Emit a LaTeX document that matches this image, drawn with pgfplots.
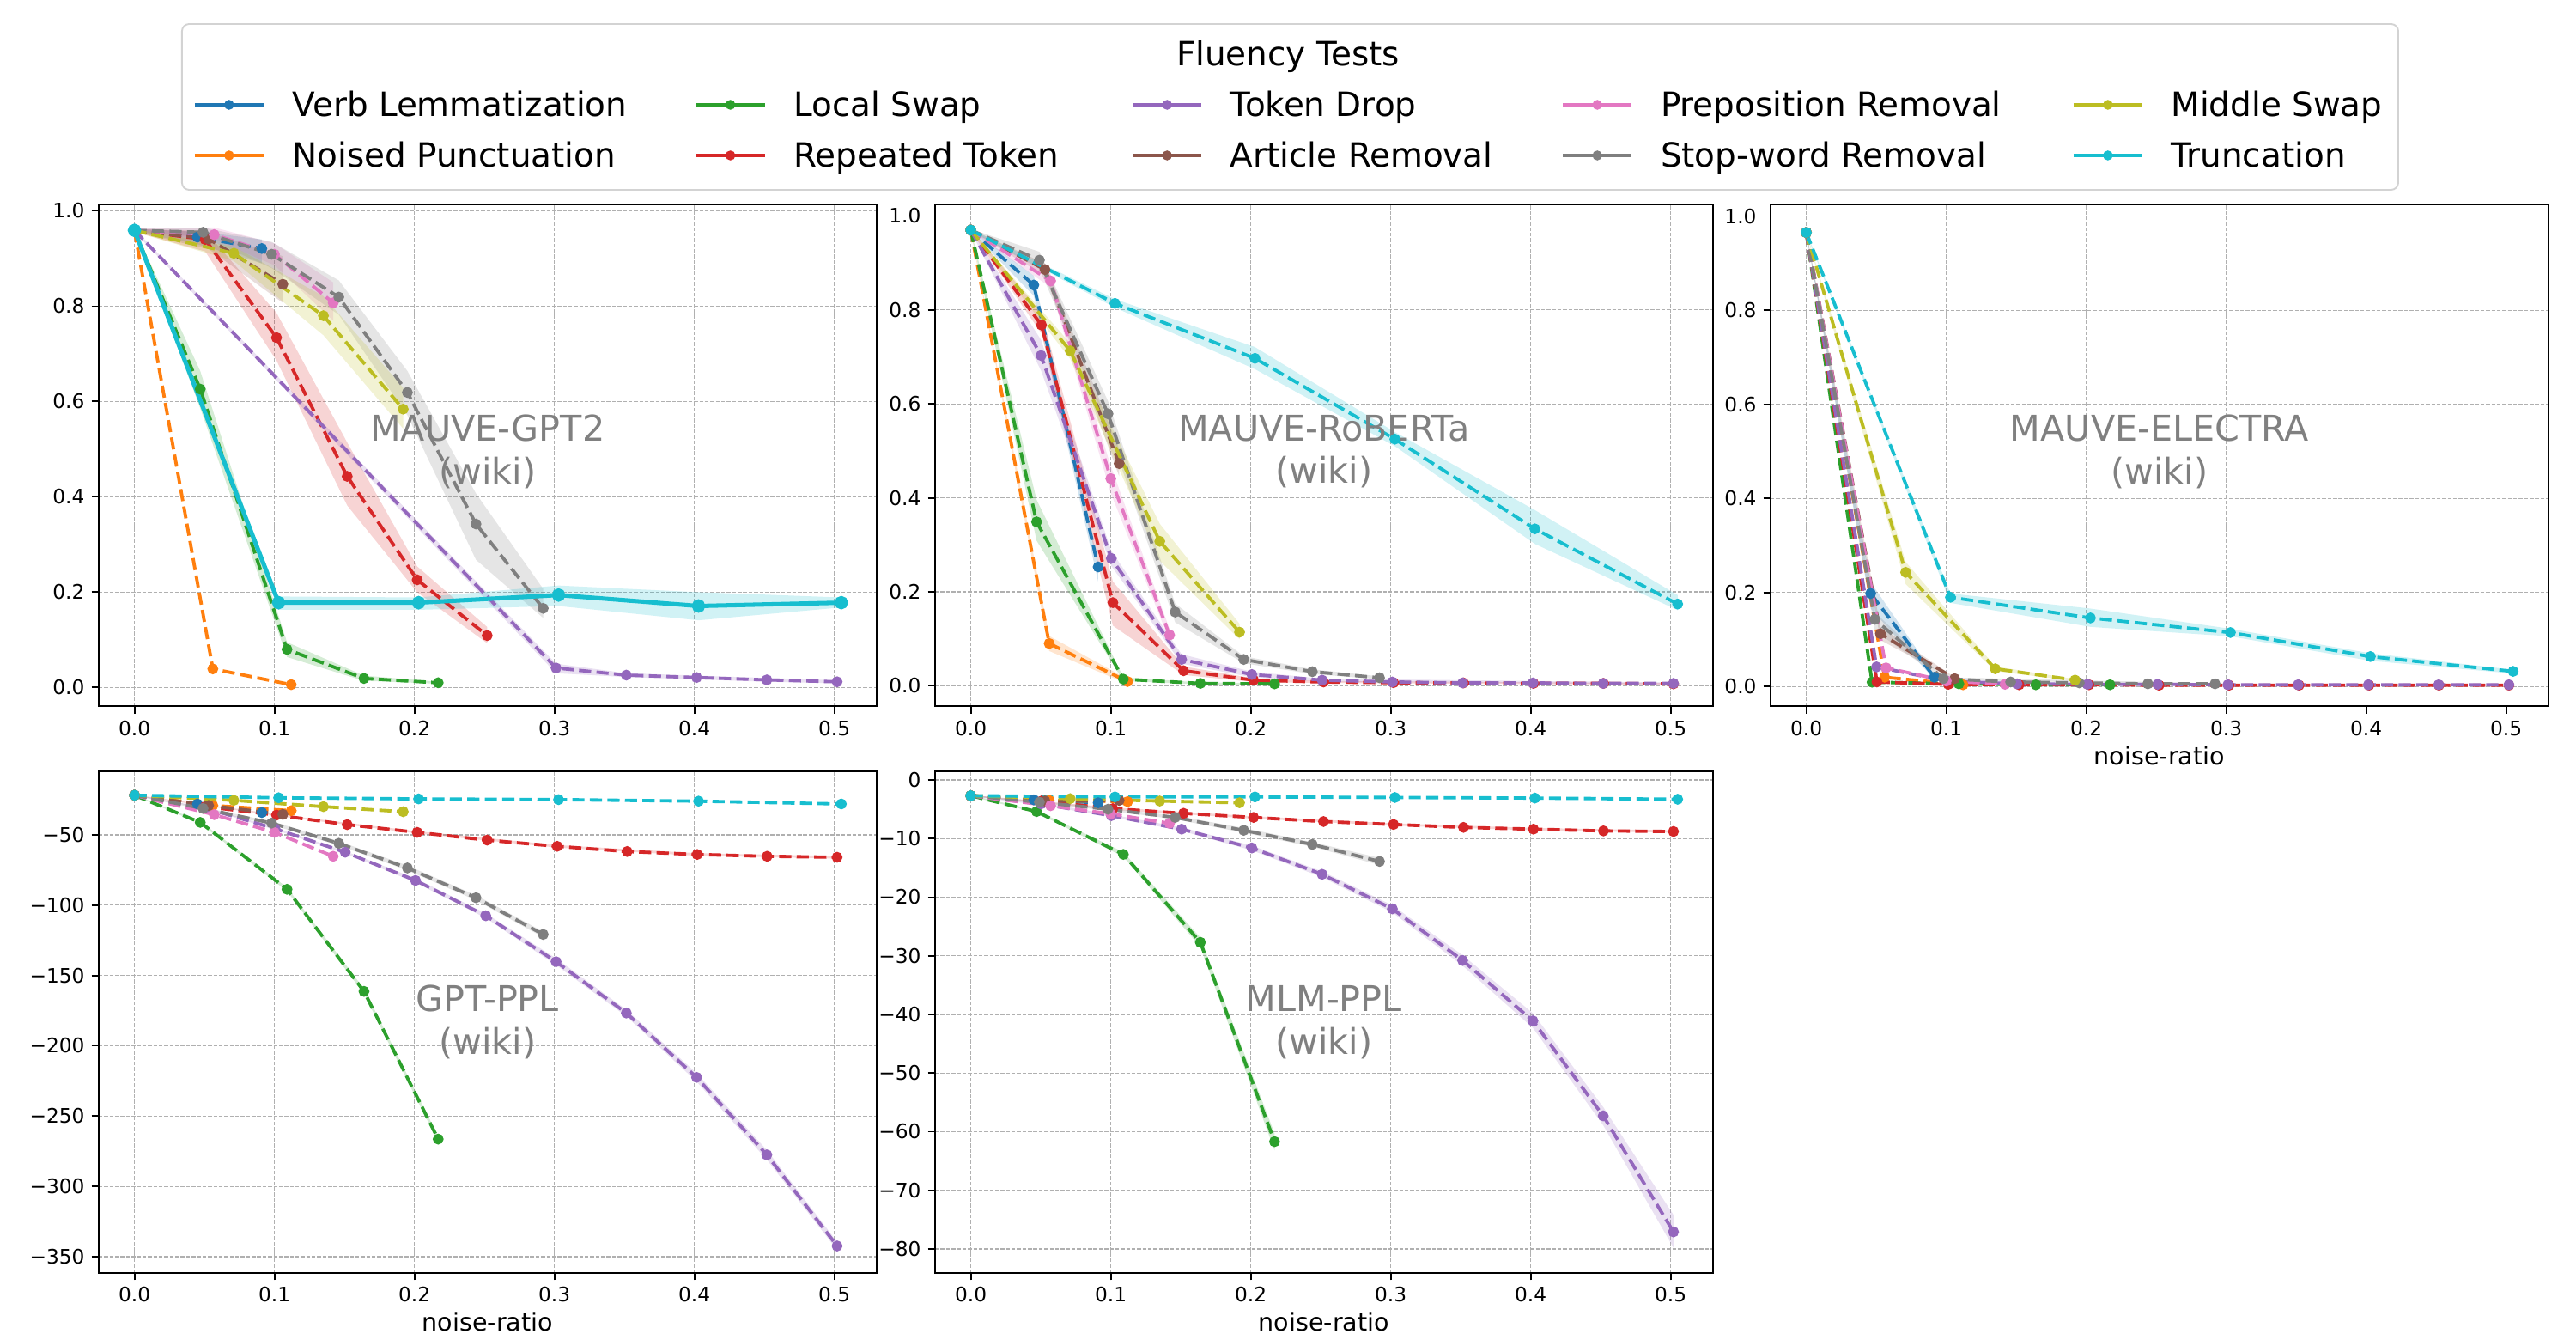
\documentclass[border=0pt]{standalone}
\usepackage{fontspec}
\setmainfont{DejaVu Sans}
\usepackage{pgfplots}
\pgfplotsset{compat=1.18}
\definecolor{c0}{HTML}{1F77B4}
\definecolor{c1}{HTML}{FF7F0E}
\definecolor{c2}{HTML}{2CA02C}
\definecolor{c3}{HTML}{D62728}
\definecolor{c4}{HTML}{9467BD}
\definecolor{c5}{HTML}{8C564B}
\definecolor{c6}{HTML}{E377C2}
\definecolor{c7}{HTML}{7F7F7F}
\definecolor{c8}{HTML}{BCBD22}
\definecolor{c9}{HTML}{17BECF}
\definecolor{gridc}{HTML}{B0B0B0}
\definecolor{annc}{HTML}{808080}
\definecolor{legc}{HTML}{D3D3D3}
\tikzset{
  ann/.style={text=annc, font=\fontsize{17.2}{20.6}\selectfont, align=center, anchor=center},
  lg/.style={color=#1, line width=1.5pt, solid, mark=*, mark size=1.6pt, mark options={fill=#1}},
}
\pgfplotsset{
  panel/.style={
    scale only axis, width=377.3pt, height=243.3pt, anchor=north west,
    xmin=-0.0255, xmax=0.530,
    xtick={0,0.1,0.2,0.3,0.4,0.5}, xticklabels={0.0,0.1,0.2,0.3,0.4,0.5},
    tick align=outside, tick pos=left, major tick length=3.5pt,
    tick style={black, line width=0.8pt},
    axis line style={black, line width=0.8pt},
    grid=major,
    major grid style={color=gridc, line width=0.5pt, dash pattern=on 1.85pt off 0.8pt},
    tick label style={font=\fontsize{9.7}{11.6}\selectfont},
    xticklabel style={anchor=north, inner sep=0pt, yshift=-3.2pt},
    yticklabel style={anchor=east, inner sep=0pt, xshift=-3.2pt},
    xlabel style={font=\fontsize{11.9}{14.3}\selectfont, at={(axis description cs:0.5,0)}, anchor=base, yshift=-28.2pt},
  },
  ln/.style={color=#1, line width=1.6pt, dash pattern=on 5.9pt off 2.6pt, mark=*, mark size=1.8pt, mark options={solid, fill=#1}},
  bd/.style={fill=#1, fill opacity=0.2, draw=none, mark=none, forget plot},
}
\begin{document}
\begin{tikzpicture}
\path[use as bounding box] (0pt,0pt) rectangle (1250pt,-650pt);

% ---------------- Panel 1: MAUVE-GPT2 ----------------
\begin{axis}[panel, at={(47.92pt,-99.375pt)}, ymin=-0.0397, ymax=1.0126,
  ytick={0,0.2,0.4,0.6,0.8,1}, yticklabels={0.0,0.2,0.4,0.6,0.8,1.0}]
\addplot[bd=c0] coordinates {(0,0.962)(0.045,0.957)(0.091,0.94)(0.091,0.89)(0.045,0.93)(0,0.956)};
\addplot[bd=c2] coordinates {(0,0.962)(0.047,0.664)(0.109,0.095)(0.164,0.025)(0.217,0.012)(0.217,0.008)(0.164,0.014)(0.109,0.064)(0.047,0.586)(0,0.956)};
\addplot[bd=c3] coordinates {(0,0.962)(0.0505,0.958)(0.1015,0.786)(0.152,0.514)(0.202,0.254)(0.252,0.127)(0.252,0.093)(0.202,0.200)(0.152,0.382)(0.1015,0.686)(0.0505,0.915)(0,0.956)};
\addplot[bd=c4] coordinates {(0,0.962)(0.3012,0.05)(0.3514,0.03)(0.4016,0.025)(0.4518,0.02)(0.502,0.015)(0.502,0.009)(0.4518,0.012)(0.4016,0.017)(0.3514,0.022)(0.3012,0.03)(0,0.956)};
\addplot[bd=c5] coordinates {(0,0.962)(0.053,0.955)(0.106,0.905)(0.106,0.807)(0.053,0.92)(0,0.956)};
\addplot[bd=c6] coordinates {(0,0.963)(0.057,0.965)(0.100,0.932)(0.142,0.85)(0.142,0.77)(0.100,0.886)(0.057,0.94)(0,0.956)};
\addplot[bd=c7] coordinates {(0,0.962)(0.049,0.965)(0.098,0.935)(0.146,0.854)(0.195,0.664)(0.244,0.407)(0.292,0.207)(0.292,0.146)(0.244,0.268)(0.195,0.571)(0.146,0.782)(0.098,0.88)(0.049,0.945)(0,0.956)};
\addplot[bd=c8] coordinates {(0,0.962)(0.071,0.925)(0.135,0.821)(0.192,0.629)(0.192,0.543)(0.135,0.739)(0.071,0.895)(0,0.956)};
\addplot[bd=c9] coordinates {(0,0.962)(0.103,0.191)(0.203,0.189)(0.303,0.214)(0.403,0.200)(0.505,0.189)(0.505,0.168)(0.403,0.141)(0.303,0.171)(0.203,0.163)(0.103,0.163)(0,0.956)};
\addplot[ln=c0] coordinates {(0,0.959)(0.045,0.945)(0.091,0.921)};
\addplot[ln=c1] coordinates {(0,0.959)(0.056,0.039)(0.112,0.006)};
\addplot[ln=c2] coordinates {(0,0.959)(0.047,0.626)(0.109,0.080)(0.164,0.019)(0.217,0.010)};
\addplot[ln=c3] coordinates {(0,0.959)(0.0505,0.940)(0.1015,0.734)(0.152,0.443)(0.202,0.226)(0.252,0.109)};
\addplot[ln=c4] coordinates {(0,0.959)(0.3012,0.041)(0.3514,0.026)(0.4016,0.021)(0.4518,0.016)(0.502,0.012)};
\addplot[ln=c5] coordinates {(0,0.959)(0.053,0.941)(0.106,0.846)};
\addplot[ln=c6] coordinates {(0,0.959)(0.057,0.950)(0.100,0.909)(0.142,0.807)};
\addplot[ln=c7] coordinates {(0,0.959)(0.049,0.955)(0.098,0.909)(0.146,0.819)(0.195,0.619)(0.244,0.343)(0.292,0.166)};
\addplot[ln=c8] coordinates {(0,0.959)(0.071,0.911)(0.135,0.780)(0.192,0.584)};
\addplot[ln=c9, solid, line width=2.1pt, mark size=2.2pt] coordinates {(0,0.959)(0.103,0.178)(0.203,0.178)(0.303,0.194)(0.403,0.171)(0.505,0.178)};
\node[ann] at (rel axis cs:0.5,0.508) {MAUVE-GPT2\\(wiki)};
\end{axis}

% ---------------- Panel 2: MAUVE-RoBERTa ----------------
\begin{axis}[panel, at={(453.75pt,-99.375pt)}, ymin=-0.044, ymax=1.0238,
  ytick={0,0.2,0.4,0.6,0.8,1}, yticklabels={0.0,0.2,0.4,0.6,0.8,1.0}]
\addplot[bd=c0] coordinates {(0,0.972)(0.045,0.873)(0.091,0.262)(0.091,0.222)(0.045,0.83)(0,0.968)};
\addplot[bd=c1] coordinates {(0,0.972)(0.056,0.106)(0.112,0.014)(0.112,0.004)(0.056,0.074)(0,0.968)};
\addplot[bd=c2] coordinates {(0,0.972)(0.047,0.396)(0.109,0.018)(0.164,0.007)(0.217,0.006)(0.217,0.002)(0.164,0.003)(0.109,0.010)(0.047,0.309)(0,0.968)};
\addplot[bd=c3] coordinates {(0,0.972)(0.0505,0.794)(0.1015,0.222)(0.152,0.041)(0.202,0.016)(0.252,0.010)(0.502,0.006)(0.502,0.002)(0.252,0.006)(0.202,0.008)(0.152,0.023)(0.1015,0.128)(0.0505,0.75)(0,0.968)};
\addplot[bd=c4] coordinates {(0,0.972)(0.0502,0.736)(0.1004,0.287)(0.1506,0.067)(0.2008,0.03)(0.251,0.015)(0.502,0.007)(0.502,0.003)(0.251,0.009)(0.2008,0.018)(0.1506,0.047)(0.1004,0.255)(0.0502,0.671)(0,0.968)};
\addplot[bd=c5] coordinates {(0,0.972)(0.053,0.899)(0.106,0.504)(0.106,0.446)(0.053,0.873)(0,0.968)};
\addplot[bd=c6] coordinates {(0,0.972)(0.057,0.877)(0.100,0.468)(0.142,0.121)(0.142,0.096)(0.100,0.41)(0.057,0.848)(0,0.968)};
\addplot[bd=c7] coordinates {(0,0.972)(0.049,0.924)(0.098,0.606)(0.146,0.175)(0.195,0.063)(0.244,0.035)(0.292,0.020)(0.292,0.014)(0.244,0.025)(0.195,0.048)(0.146,0.135)(0.098,0.548)(0.049,0.888)(0,0.968)};
\addplot[bd=c8] coordinates {(0,0.972)(0.071,0.729)(0.135,0.345)(0.192,0.132)(0.192,0.099)(0.135,0.266)(0.071,0.696)(0,0.968)};
\addplot[bd=c9] coordinates {(0,0.972)(0.103,0.823)(0.203,0.721)(0.303,0.54)(0.403,0.374)(0.505,0.193)(0.505,0.161)(0.403,0.302)(0.303,0.51)(0.203,0.674)(0.103,0.805)(0,0.968)};
\addplot[ln=c0] coordinates {(0,0.970)(0.045,0.853)(0.091,0.253)};
\addplot[ln=c1] coordinates {(0,0.970)(0.056,0.090)(0.112,0.009)};
\addplot[ln=c2] coordinates {(0,0.970)(0.047,0.349)(0.109,0.014)(0.164,0.005)(0.217,0.004)};
\addplot[ln=c3] coordinates {(0,0.970)(0.0505,0.768)(0.1015,0.177)(0.152,0.032)(0.202,0.012)(0.252,0.008)(0.302,0.0065)(0.352,0.006)(0.402,0.005)(0.452,0.005)(0.502,0.004)};
\addplot[ln=c4] coordinates {(0,0.970)(0.0502,0.703)(0.1004,0.271)(0.1506,0.056)(0.2008,0.024)(0.251,0.012)(0.3012,0.008)(0.3514,0.006)(0.4016,0.006)(0.4518,0.005)(0.502,0.005)};
\addplot[ln=c5] coordinates {(0,0.970)(0.053,0.886)(0.106,0.473)};
\addplot[ln=c6] coordinates {(0,0.970)(0.057,0.862)(0.100,0.441)(0.142,0.108)};
\addplot[ln=c7] coordinates {(0,0.970)(0.049,0.906)(0.098,0.579)(0.146,0.157)(0.195,0.056)(0.244,0.030)(0.292,0.017)};
\addplot[ln=c8] coordinates {(0,0.970)(0.071,0.713)(0.135,0.3075)(0.192,0.114)};
\addplot[ln=c9] coordinates {(0,0.970)(0.103,0.814)(0.203,0.697)(0.303,0.525)(0.403,0.334)(0.505,0.174)};
\node[ann] at (rel axis cs:0.5,0.508) {MAUVE-RoBERTa\\(wiki)};
\end{axis}

% ---------------- Panel 3: MAUVE-ELECTRA ----------------
\begin{axis}[panel, at={(859.17pt,-99.375pt)}, ymin=-0.042, ymax=1.0238,
  ytick={0,0.2,0.4,0.6,0.8,1}, yticklabels={0.0,0.2,0.4,0.6,0.8,1.0},
  xlabel={noise-ratio}]
\addplot[bd=c0] coordinates {(0,0.967)(0.046,0.222)(0.0915,0.025)(0.0915,0.015)(0.046,0.166)(0,0.963)};
\addplot[bd=c5] coordinates {(0,0.967)(0.053,0.127)(0.106,0.020)(0.106,0.014)(0.053,0.099)(0,0.963)};
\addplot[bd=c7] coordinates {(0,0.967)(0.049,0.158)(0.098,0.020)(0.292,0.007)(0.292,0.005)(0.098,0.014)(0.049,0.119)(0,0.963)};
\addplot[bd=c8] coordinates {(0,0.967)(0.071,0.265)(0.135,0.043)(0.192,0.016)(0.192,0.012)(0.135,0.033)(0.071,0.218)(0,0.963)};
\addplot[bd=c9] coordinates {(0,0.967)(0.103,0.198)(0.203,0.166)(0.303,0.123)(0.403,0.071)(0.505,0.036)(0.505,0.028)(0.403,0.055)(0.303,0.107)(0.203,0.127)(0.103,0.178)(0,0.963)};
\addplot[ln=c0] coordinates {(0,0.965)(0.046,0.198)(0.0915,0.020)};
\addplot[ln=c1] coordinates {(0,0.965)(0.056,0.020)(0.112,0.004)};
\addplot[ln=c2] coordinates {(0,0.965)(0.047,0.0095)(0.109,0.006)(0.164,0.004)(0.217,0.004)};
\addplot[ln=c3] coordinates {(0,0.965)(0.0505,0.010)(0.1015,0.005)(0.152,0.004)(0.202,0.004)(0.252,0.003)(0.302,0.003)(0.352,0.003)(0.402,0.003)(0.452,0.003)(0.502,0.003)};
\addplot[ln=c4] coordinates {(0,0.965)(0.0502,0.042)(0.1004,0.012)(0.1506,0.006)(0.2008,0.005)(0.251,0.005)(0.3012,0.004)(0.3514,0.004)(0.4016,0.004)(0.4518,0.004)(0.502,0.004)};
\addplot[ln=c5] coordinates {(0,0.965)(0.053,0.1125)(0.106,0.017)};
\addplot[ln=c6] coordinates {(0,0.965)(0.057,0.040)(0.100,0.012)(0.142,0.005)};
\addplot[ln=c7] coordinates {(0,0.965)(0.049,0.143)(0.098,0.017)(0.146,0.010)(0.195,0.008)(0.244,0.006)(0.292,0.006)};
\addplot[ln=c8] coordinates {(0,0.965)(0.071,0.243)(0.135,0.038)(0.192,0.014)};
\addplot[ln=c9] coordinates {(0,0.965)(0.103,0.190)(0.203,0.146)(0.303,0.115)(0.403,0.064)(0.505,0.0325)};
\node[ann] at (rel axis cs:0.5,0.508) {MAUVE-ELECTRA\\(wiki)};
\end{axis}

% ---------------- Panel 4: GPT-PPL ----------------
\begin{axis}[panel, at={(47.92pt,-374.17pt)}, ymin=-361.6, ymax=-4.8,
  ytick={-350,-300,-250,-200,-150,-100,-50},
  yticklabels={−350,−300,−250,−200,−150,−100,−50},
  xlabel={noise-ratio}]
\addplot[bd=c2] coordinates {(0,-21.5)(0.047,-40.3)(0.109,-87.4)(0.164,-159.5)(0.217,-264.3)(0.217,-268.5)(0.164,-163.1)(0.109,-90.0)(0.047,-41.9)(0,-22.1)};
\addplot[bd=c3] coordinates {(0,-21.5)(0.1015,-35.3)(0.202,-47.4)(0.302,-57.2)(0.402,-63.0)(0.502,-65.0)(0.502,-66.8)(0.402,-64.8)(0.302,-59.0)(0.202,-49.0)(0.1015,-36.5)(0,-22.1)};
\addplot[bd=c4] coordinates {(0,-21.5)(0.0502,-30.3)(0.1004,-44.8)(0.1506,-61.5)(0.2008,-80.9)(0.251,-105.9)(0.3012,-137.8)(0.3514,-174.4)(0.4016,-219.5)(0.4518,-274.2)(0.502,-339.5)(0.502,-345.3)(0.4518,-281.0)(0.4016,-225.5)(0.3514,-179.0)(0.3012,-142.6)(0.251,-109.1)(0.2008,-83.9)(0.1506,-63.1)(0.1004,-46.4)(0.0502,-31.1)(0,-22.1)};
\addplot[bd=c7] coordinates {(0,-21.5)(0.049,-30.4)(0.098,-40.4)(0.146,-54.5)(0.195,-71.8)(0.244,-92.9)(0.292,-118.8)(0.292,-122.8)(0.244,-96.5)(0.195,-75.2)(0.146,-57.5)(0.098,-42.8)(0.049,-32.0)(0,-22.1)};
\addplot[ln=c0] coordinates {(0,-21.8)(0.045,-28.0)(0.091,-34.1)};
\addplot[ln=c1] coordinates {(0,-21.8)(0.056,-29.1)(0.112,-32.8)};
\addplot[ln=c2] coordinates {(0,-21.8)(0.047,-41.1)(0.109,-88.7)(0.164,-161.3)(0.217,-266.4)};
\addplot[ln=c3] coordinates {(0,-21.8)(0.0505,-29.9)(0.1015,-35.9)(0.152,-42.7)(0.202,-48.2)(0.252,-53.7)(0.302,-58.1)(0.352,-61.8)(0.402,-63.9)(0.452,-65.2)(0.502,-65.9)};
\addplot[ln=c4] coordinates {(0,-21.8)(0.0502,-30.7)(0.1004,-45.6)(0.1506,-62.3)(0.2008,-82.4)(0.251,-107.5)(0.3012,-140.2)(0.3514,-176.7)(0.4016,-222.5)(0.4518,-277.6)(0.502,-342.4)};
\addplot[ln=c5] coordinates {(0,-21.8)(0.053,-29.1)(0.106,-35.4)};
\addplot[ln=c6] coordinates {(0,-21.8)(0.057,-35.6)(0.100,-48.2)(0.142,-65.2)};
\addplot[ln=c7] coordinates {(0,-21.8)(0.049,-31.2)(0.098,-41.6)(0.146,-56.0)(0.195,-73.5)(0.244,-94.7)(0.292,-120.8)};
\addplot[ln=c8] coordinates {(0,-21.8)(0.071,-25.4)(0.135,-29.9)(0.192,-33.5)};
\addplot[ln=c9] coordinates {(0,-21.8)(0.103,-23.6)(0.203,-24.4)(0.303,-24.9)(0.403,-26.0)(0.505,-28.0)};
\node[ann] at (rel axis cs:0.5,0.5) {GPT-PPL\\(wiki)};
\end{axis}

% ---------------- Panel 5: MLM-PPL ----------------
\begin{axis}[panel, at={(453.75pt,-374.17pt)}, ymin=-84.1, ymax=1.46,
  ytick={-80,-70,-60,-50,-40,-30,-20,-10,0},
  yticklabels={−80,−70,−60,−50,−40,−30,−20,−10,0},
  xlabel={noise-ratio}]
\addplot[bd=c2] coordinates {(0,-2.6)(0.047,-5.2)(0.109,-12.3)(0.164,-26.9)(0.217,-60.3)(0.217,-63.2)(0.164,-28.5)(0.109,-13.1)(0.047,-5.6)(0,-2.8)};
\addplot[bd=c3] coordinates {(0,-2.6)(0.1015,-4.7)(0.202,-6.2)(0.302,-7.4)(0.402,-8.2)(0.502,-8.6)(0.502,-9.0)(0.402,-8.6)(0.302,-7.8)(0.202,-6.6)(0.1015,-5.1)(0,-2.8)};
\addplot[bd=c4] coordinates {(0,-2.6)(0.0502,-3.9)(0.1004,-5.9)(0.1506,-8.1)(0.2008,-11.2)(0.251,-15.6)(0.3012,-21.4)(0.3514,-29.9)(0.4016,-39.8)(0.4518,-55.8)(0.502,-74.2)(0.502,-79.8)(0.4518,-58.9)(0.4016,-42.3)(0.3514,-31.7)(0.3012,-22.6)(0.251,-16.6)(0.2008,-12.0)(0.1506,-8.7)(0.1004,-6.3)(0.0502,-4.3)(0,-2.8)};
\addplot[bd=c7] coordinates {(0,-2.6)(0.049,-3.6)(0.098,-4.8)(0.146,-6.1)(0.195,-8.2)(0.244,-10.6)(0.292,-13.3)(0.292,-14.5)(0.244,-11.4)(0.195,-9.0)(0.146,-6.7)(0.098,-5.2)(0.049,-4.0)(0,-2.8)};
\addplot[ln=c0] coordinates {(0,-2.7)(0.045,-3.4)(0.091,-3.9)};
\addplot[ln=c1] coordinates {(0,-2.7)(0.056,-3.5)(0.112,-3.7)};
\addplot[ln=c2] coordinates {(0,-2.7)(0.047,-5.4)(0.109,-12.7)(0.164,-27.7)(0.217,-61.7)};
\addplot[ln=c3] coordinates {(0,-2.7)(0.0505,-3.6)(0.1015,-4.9)(0.152,-5.7)(0.202,-6.4)(0.252,-7.1)(0.302,-7.6)(0.352,-8.1)(0.402,-8.4)(0.452,-8.7)(0.502,-8.8)};
\addplot[ln=c4] coordinates {(0,-2.7)(0.0502,-4.1)(0.1004,-6.1)(0.1506,-8.4)(0.2008,-11.6)(0.251,-16.1)(0.3012,-22.0)(0.3514,-30.8)(0.4016,-41.1)(0.4518,-57.3)(0.502,-77.1)};
\addplot[ln=c5] coordinates {(0,-2.7)(0.053,-3.6)(0.106,-3.5)};
\addplot[ln=c6] coordinates {(0,-2.7)(0.057,-4.4)(0.100,-5.8)(0.142,-7.4)};
\addplot[ln=c7] coordinates {(0,-2.7)(0.049,-3.8)(0.098,-5.0)(0.146,-6.4)(0.195,-8.6)(0.244,-11.0)(0.292,-13.9)};
\addplot[ln=c8] coordinates {(0,-2.7)(0.071,-3.2)(0.135,-3.6)(0.192,-3.9)};
\addplot[ln=c9] coordinates {(0,-2.7)(0.103,-2.9)(0.203,-2.9)(0.303,-3.0)(0.403,-3.1)(0.505,-3.3)};
\node[ann] at (rel axis cs:0.5,0.5) {MLM-PPL\\(wiki)};
\end{axis}

% ---------------- Legend ----------------
\draw[draw=legc, line width=0.8pt, rounded corners=3.5pt, fill=white] (88.3pt,-11.67pt) rectangle (1163.75pt,-92.08pt);
\node[anchor=base, font=\fontsize{16.2}{19.4}\selectfont] at (625pt,-31.67pt) {Fluency Tests};
\begin{axis}[hide axis, scale only axis, width=1250pt, height=650pt,
  at={(0pt,0pt)}, anchor=north west, xmin=0, xmax=1, ymin=0, ymax=1,
  legend image code/.code={\draw[mark repeat=2, mark phase=2, #1] plot coordinates {(0pt,5.83pt) (16.67pt,5.83pt) (33.33pt,5.83pt)};},
  legend columns=5,
  legend style={at={(0.075,0.93128)}, anchor=north west, draw=none, fill=none,
    inner sep=0pt, outer sep=0pt, font=\fontsize{16.2}{19.4}\selectfont,
    row sep=8.58pt, cells={anchor=base west},
    nodes={inner sep=0pt, text height=12pt, text depth=4pt}}]
\addlegendimage{lg=c0}\addlegendentry{\hspace*{13.33pt}\makebox[195.1pt][l]{Verb Lemmatization}}
\addlegendimage{lg=c2}\addlegendentry{\hspace*{13.33pt}\makebox[163.75pt][l]{Local Swap}}
\addlegendimage{lg=c4}\addlegendentry{\hspace*{13.33pt}\makebox[160.6pt][l]{Token Drop}}
\addlegendimage{lg=c6}\addlegendentry{\hspace*{13.33pt}\makebox[199.6pt][l]{Preposition Removal}}
\addlegendimage{lg=c8}\addlegendentry{\hspace*{13.33pt}\makebox[105pt][l]{Middle Swap}}
\addlegendimage{lg=c1}\addlegendentry{\hspace*{13.33pt}Noised Punctuation}
\addlegendimage{lg=c3}\addlegendentry{\hspace*{13.33pt}Repeated Token}
\addlegendimage{lg=c5}\addlegendentry{\hspace*{13.33pt}Article Removal}
\addlegendimage{lg=c7}\addlegendentry{\hspace*{13.33pt}Stop-word Removal}
\addlegendimage{lg=c9}\addlegendentry{\hspace*{13.33pt}Truncation}
\end{axis}
\end{tikzpicture}
\end{document}
